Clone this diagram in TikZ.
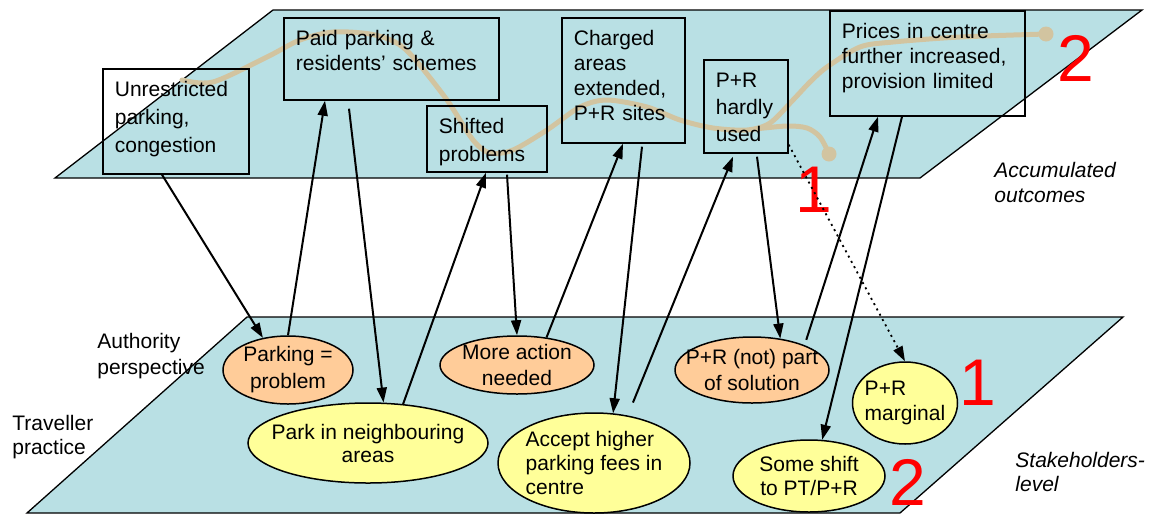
\documentclass[tikz,border=0pt]{standalone}
\usepackage{fontspec}
\setmainfont{Liberation Sans}
\usetikzlibrary{arrows.meta,shapes.geometric}
\definecolor{plan}{RGB}{185,224,228}
\definecolor{autorite}{RGB}{255,204,153}
\definecolor{usager}{RGB}{255,255,153}
\definecolor{trace}{RGB}{210,196,160}
\tikzset{
	txt/.style={inner sep=0pt,font=\fontsize{10.5}{13}\selectfont},
	box/.style={draw,line width=0.85pt,anchor=north west,inner xsep=6pt,inner ysep=3pt,align=left,text height=11pt,font=\fontsize{10.5}{12.5}\selectfont},
	oval/.style={ellipse,draw,line width=0.75pt,inner sep=-20pt,font=\fontsize{10.5}{13}\selectfont},
	fl/.style={line width=1pt,-{Triangle[length=7.5pt,width=5pt]}},
	num/.style={text=red,inner sep=0pt,font=\fontsize{33}{33}\selectfont}
}
\begin{document}
\begin{tikzpicture}[x=0.5pt,y=-0.5pt]
		\useasboundingbox (0,0) rectangle (1151,515);
		% les deux plans
		\filldraw[fill=plan,line width=0.65pt] (273,10) -- (1142,10) -- (920,178) -- (55,178) -- cycle;
		\filldraw[fill=plan,line width=0.65pt] (247,317) -- (1123,317) -- (900,513) -- (27,513) -- cycle;
		% trajectoire
		\coordinate (fin1) at (829,154);
		\coordinate (fin2) at (1046,34);
		\draw[trace,line width=2.5pt,line cap=round] plot[smooth,tension=0.5] coordinates {(182,80) (213,82) (267,57) (300,40) (333,32) (370,34) (395,42) (413,57) (447,100) (473,140) (490,153) (513,150) (547,130) (580,107) (607,100) (647,107) (680,120) (713,128) (747,130) (770,123) (793,100) (810,82) (827,67) (860,47) (893,42) (960,37) (fin2)};
		\draw[trace,line width=2.5pt,line cap=round] plot[smooth,tension=0.5] coordinates {(755,129) (787,126) (807,128) (820,137) (fin1)};
		\fill[trace] (fin1) circle (3.75pt);
		\fill[trace] (fin2) circle (3.75pt);
		% resultats
		\node[box,text width=61pt,text depth=35.5pt,font=\fontsize{10.5}{14}\selectfont] (unres) at (102,68) {Unrestricted\\parking,\\congestion};
		\node[box,text width=95.5pt,text depth=24pt] (paid) at (283,17) {Paid parking \&\\residents’ schemes};
		\node[box,text width=48pt,text depth=16pt,font=\fontsize{10.5}{14}\selectfont] (shift) at (426,105) {Shifted\\problems};
		\node[box,text width=49.5pt,text depth=45.5pt] (charged) at (561,17) {Charged\\areas\\extended,\\P+R sites};
		\node[box,text width=30pt,text depth=29.5pt,font=\fontsize{10.5}{13.5}\selectfont] (hardly) at (703,59) {P+R\\hardly\\used};
		\node[box,text width=85.5pt,text depth=35.5pt] (prices) at (829,10) {Prices in centre\\further increased,\\provision limited};
		% acteurs
		\node[oval,fill=autorite,minimum width=65pt,minimum height=34pt,align=center,font=\fontsize{10.5}{13.5}\selectfont] (parkprob) at (288,370) {Parking =\\problem};
		\node[oval,fill=autorite,minimum width=77pt,minimum height=29pt,align=center] (action) at (517,365) {More action\\needed};
		\node[oval,fill=autorite,minimum width=77pt,minimum height=33pt,align=center] (prnot) at (752,370) {P+R (not) part\\of solution};
		\node[oval,fill=usager,minimum width=120pt,minimum height=40pt,align=center,font=\fontsize{10.5}{11.5}\selectfont] (park) at (368,443) {Park in neighbouring\\areas};
		\node[oval,fill=usager,minimum width=96pt,minimum height=50pt,align=left,font=\fontsize{10.5}{12}\selectfont] (accept) at (594,463) {Accept higher\\parking fees in\\centre};
		\node[oval,fill=usager,minimum width=52.5pt,minimum height=41pt,align=left,font=\fontsize{10.5}{12.5}\selectfont] (marginal) at (905,403) {P+R\\marginal};
		\node[oval,fill=usager,minimum width=76pt,minimum height=36pt,align=center,font=\fontsize{10.5}{12}\selectfont] (shiftpt) at (809,476) {Some shift\\to PT/P+R};
		% textes
		\node[txt,align=left,anchor=west] (autorite) at (97,356.5) {Authority\\perspective};
		\node[txt,align=left,anchor=west,font=\fontsize{10.5}{12}\selectfont] (traveller) at (12,437.5) {Traveller\\practice};
		\node[txt,align=left,anchor=west,font=\fontsize{10.5}{12.5}\itshape] (accum) at (994,182) {Accumulated\\outcomes};
		\node[txt,align=left,anchor=west,font=\fontsize{10.5}{12}\itshape] (stake) at (1015,472) {Stakeholders-\\level};
		\node[num] (n1h) at (814,190) {1};
		\node[num] (n2h) at (1076,58) {2};
		\node[num] (n1b) at (978,383) {1};
		\node[num] (n2b) at (908,482) {2};
		% fleches
		\draw[fl] ([xshift=30pt]unres.south west) -- (parkprob.128);
		\draw[fl] (parkprob.north) -- ([xshift=21pt]paid.south west);
		\draw[fl] ([xshift=33pt,yshift=-4pt]paid.south west) -- (park.69);
		\draw[fl] (park.48) -- ([xshift=30pt]shift.south west);
		\draw[fl] ([xshift=40.5pt,yshift=-1pt]shift.south west) -- (action.north);
		\draw[fl] (action.43) -- ([xshift=31pt]charged.south west);
		\draw[fl] ([xshift=40.5pt,yshift=-1.5pt]charged.south west) -- (accept.69);
		\draw[fl] ([yshift=7pt]accept.50) -- ([xshift=15pt,yshift=-1.5pt]hardly.south west);
		\draw[fl] ([xshift=27pt,yshift=-1.5pt]hardly.south west) -- (prnot.48);
		\draw[fl] ([yshift=3pt]prnot.24) -- ([xshift=24.5pt]prices.south west);
		\draw[fl] ([xshift=36.5pt]prices.south west) -- (shiftpt.70);
		\draw[fl,dotted,line width=0.9pt] ([yshift=4.5pt]hardly.south east) -- (marginal.north);
	\end{tikzpicture}
\end{document}
